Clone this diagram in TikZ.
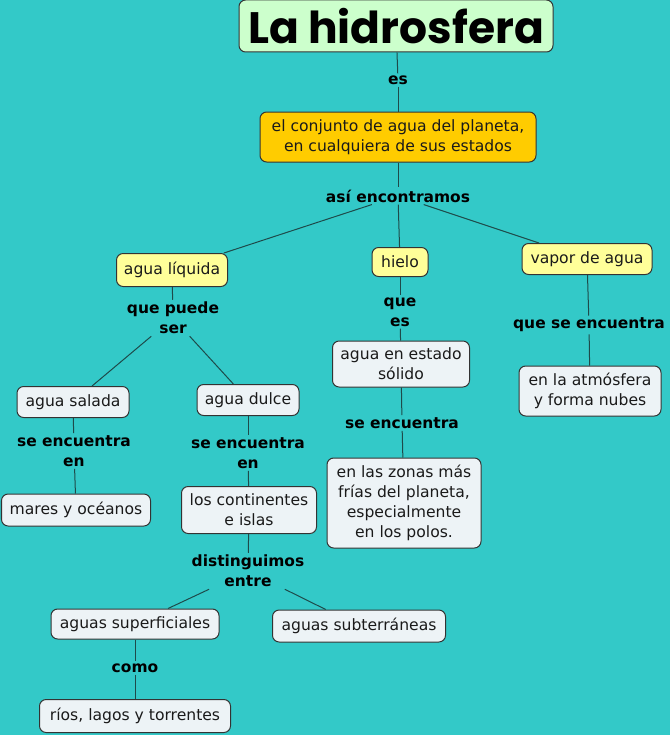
\documentclass[tikz,border=0pt]{standalone}
\usepackage{fontspec}
\setmainfont{DejaVu Sans}
\newfontfamily\titlefont{Poppins}
\definecolor{bgcol}{HTML}{33C9C8}
\definecolor{titlecol}{HTML}{CCFFCC}
\definecolor{orangecol}{HTML}{FFCC00}
\definecolor{yellowcol}{HTML}{FFFF99}
\definecolor{lightcol}{HTML}{EDF3F6}
\definecolor{bordercol}{HTML}{333333}
\definecolor{linecol}{HTML}{1E4A4A}
\definecolor{textcol}{HTML}{1A1A1A}
\begin{document}
\begin{tikzpicture}[x=0.75pt,y=-0.75pt,
  wh/.style 2 args={minimum width=#1*0.75pt,minimum height=#2*0.75pt},
  box/.style={draw=bordercol,line width=0.75pt,rounded corners=5pt,inner sep=0pt,align=center,
    font=\fontsize{11.7}{15}\selectfont,text=textcol,fill=lightcol},
  lab/.style={font=\bfseries\fontsize{11.6}{15}\selectfont,align=center,inner sep=1.5pt,text=black},
  con/.style={draw=linecol,line width=0.75pt}]
\fill[bgcol] (0,0) rectangle (670,735);
\useasboundingbox (0,0) rectangle (670,735);

\node[box,fill=titlecol,wh={314}{52},font=\titlefont\bfseries\fontsize{33}{36}\selectfont,text=black] (title) at (396,26) {La hidrosfera};
\node[box,fill=orangecol,wh={276}{50}] (conj) at (398,137) {el conjunto de agua del planeta,\\en cualquiera de sus estados};
\node[box,fill=yellowcol,wh={111}{33}] (liq) at (172,270) {agua líquida};
\node[box,fill=yellowcol,wh={56}{29}] (hielo) at (400,262) {hielo};
\node[box,fill=yellowcol,wh={130}{31}] (vapor) at (587,259) {vapor de agua};
\node[box,wh={112}{31}] (salada) at (73,402) {agua salada};
\node[box,wh={102}{31}] (dulce) at (248,400) {agua dulce};
\node[box,wh={137}{46}] (solido) at (401,364) {agua en estado\\sólido};
\node[box,wh={142}{50}] (atm) at (590,391) {en la atmósfera\\y forma nubes};
\node[box,wh={149}{32}] (mares) at (76,510) {mares y océanos};
\node[box,wh={135}{47}] (cont) at (249,510) {los continentes\\e islas};
\node[box,wh={154}{90}] (zonas) at (404,503) {en las zonas más\\frías del planeta,\\especialmente\\en los polos.};
\node[box,wh={168}{30}] (sup) at (135,624) {aguas superficiales};
\node[box,wh={173}{32}] (sub) at (359,626) {aguas subterráneas};
\node[box,wh={191}{33}] (rios) at (135,716) {ríos, lagos y torrentes};

\node[lab] (es) at (398,80) {es};
\node[lab] (asi) at (398,196) {así encontramos};
\node[lab] (puede) at (173,318) {que puede\\ser};
\node[lab] (quees) at (400,312) {que\\es};
\node[lab] (qse) at (589,325) {que se encuentra};
\node[lab] (se1) at (74,451) {se encuentra\\en};
\node[lab] (se2) at (248,453) {se encuentra\\en};
\node[lab] (se3) at (402,423) {se encuentra};
\node[lab] (dist) at (248,571) {distinguimos\\entre};
\node[lab] (como) at (135,668) {como};

\draw[con] (title) -- (es);
\draw[con] (es) -- (conj);
\draw[con] (conj) -- (asi);
\draw[con] (asi) -- (liq);
\draw[con] (asi) -- (hielo);
\draw[con] (asi) -- (vapor);
\draw[con] (liq) -- (puede);
\draw[con] (puede) -- (salada);
\draw[con] (puede) -- (dulce);
\draw[con] (hielo) -- (quees);
\draw[con] (quees) -- (solido);
\draw[con] (vapor) -- (qse);
\draw[con] (qse) -- (atm);
\draw[con] (salada) -- (se1);
\draw[con] (se1) -- (mares);
\draw[con] (dulce) -- (se2);
\draw[con] (se2) -- (cont);
\draw[con] (solido) -- (se3);
\draw[con] (se3) -- (zonas);
\draw[con] (cont) -- (dist);
\draw[con] (dist) -- (sup);
\draw[con] (dist) -- (sub);
\draw[con] (sup) -- (como);
\draw[con] (como) -- (rios);
\end{tikzpicture}
\end{document}
